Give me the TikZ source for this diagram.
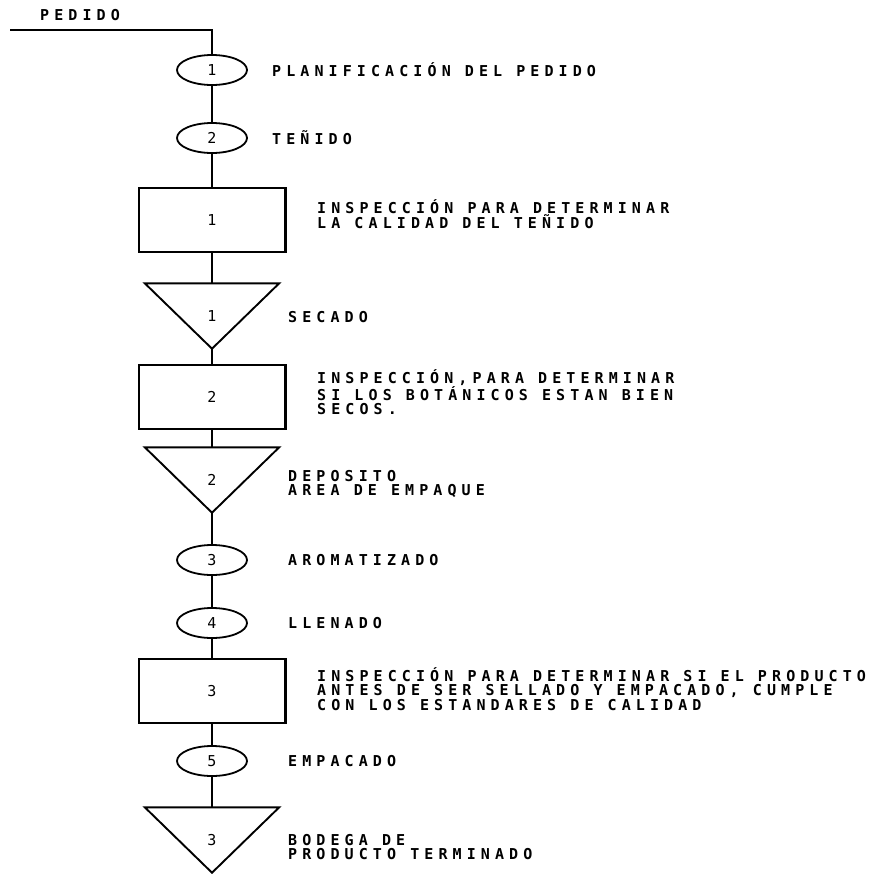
\documentclass[tikz,border=0pt]{standalone}
\usepackage{fontspec}
\newfontfamily\plotfont{DejaVu Sans Mono}[LetterSpace=34]
\usetikzlibrary{shapes.geometric}

\begin{document}
\begin{tikzpicture}[x=1pt,y=-1pt,
    operacion/.style={ellipse,draw,line width=1.8pt,minimum width=70pt,minimum height=30pt,inner sep=0pt,font={\plotfont\fontsize{15}{15}\selectfont}},
    inspeccion/.style={rectangle,draw,line width=1.8pt,minimum width=146pt,minimum height=64pt,inner sep=0pt,font={\plotfont\fontsize{15}{15}\selectfont}},
    almacen/.style={rectangle,minimum width=134pt,minimum height=65pt,inner sep=0pt,font={\plotfont\fontsize{15}{15}\selectfont}},
    texto/.style={anchor=west,align=left,inner sep=0pt,font={\plotfont\bfseries\fontsize{15}{14.5}\selectfont}},
    linea/.style={line width=1.5pt}]
  \useasboundingbox (0,0) rectangle (888,873);

  % simbolos del diagrama
  \coordinate (inicio) at (10,30);
  \node[texto] (pedido) at (40,15) {PEDIDO};
  \node[operacion] (o1) at (212,70) {1};
  \node[operacion] (o2) at (212,138) {2};
  \node[inspeccion] (i1) at (212,220) {1};
  \node[almacen] (a1) at (212,316) {1};
  \node[inspeccion] (i2) at (212,397) {2};
  \node[almacen] (a2) at (212,480) {2};
  \node[operacion] (o3) at (212,560) {3};
  \node[operacion] (o4) at (212,623) {4};
  \node[inspeccion] (i3) at (212,691) {3};
  \node[operacion] (o5) at (212,761) {5};
  \node[almacen] (a3) at (212,840) {3};

  % triangulos de almacenamiento
  \foreach \t in {a1,a2,a3}
    \draw[line width=1.9pt,line join=miter] (\t.north west) -- (\t.north east) -- (\t.south) -- cycle;
  \foreach \b in {i1,i2,i3}
    \draw[line width=3pt] (\b.north east) -- (\b.south east);

  % descripciones
  \node[texto] (t1) at (272,70) {PLANIFICACIÓN DEL PEDIDO};
  \node[texto] (t2) at (272,138) {TEÑIDO};
  \node[texto] (t3) at (317,214) {INSPECCIÓN PARA DETERMINAR\\LA CALIDAD DEL TEÑIDO};
  \node[texto] (t4) at (288,317) {SECADO};
  \node[texto] (t5) at (317,392) {INSPECCIÓN,PARA DETERMINAR\\SI LOS BOTÁNICOS ESTAN BIEN\\SECOS.};
  \node[texto] (t6) at (288,484) {DEPOSITO\\AREA DE EMPAQUE};
  \node[texto] (t7) at (288,560) {AROMATIZADO};
  \node[texto] (t8) at (288,623) {LLENADO};
  \node[texto] (t9) at (317,689) {INSPECCIÓN PARA DETERMINAR SI EL PRODUCTO\\ANTES DE SER SELLADO Y EMPACADO, CUMPLE\\CON LOS ESTANDARES DE CALIDAD};
  \node[texto] (t10) at (288,761) {EMPACADO};
  \node[texto] (t11) at (288,847) {BODEGA DE\\PRODUCTO TERMINADO};

  % flujo
  \draw[linea] (inicio) -| (o1);
  \draw[linea] (o1) -- (o2) -- (i1) -- (a1) -- (i2) -- (a2) -- (o3) -- (o4) -- (i3) -- (o5) -- (a3);
\end{tikzpicture}
\end{document}
